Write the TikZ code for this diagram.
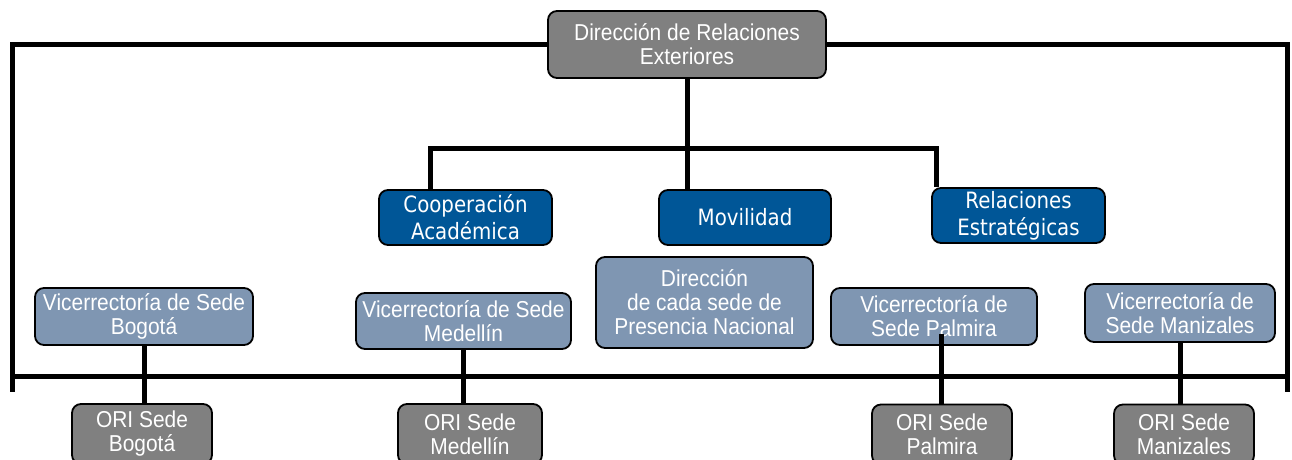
\documentclass[tikz,border=0pt]{standalone}
\usepackage{fontspec}
\setmainfont{Liberation Sans}
\newfontfamily\afont[FakeStretch=0.91]{Liberation Sans}
\newfontfamily\vfont[FakeStretch=0.88]{DejaVu Sans}
\usetikzlibrary{backgrounds}
\definecolor{topgray}{RGB}{128,128,128}
\definecolor{deepblue}{RGB}{0,86,151}
\definecolor{steel}{RGB}{127,150,178}
\tikzset{
  box/.style={draw=black, line width=1.8pt, rounded corners=9pt, text=white, align=center, inner sep=0pt},
  graybox/.style={box, fill=topgray, font=\afont\fontsize{23}{24}\selectfont},
  bluebox/.style={box, fill=deepblue, font=\vfont\fontsize{22.5}{27}\selectfont},
  steelbox/.style={box, fill=steel, font=\afont\fontsize{23}{24}\selectfont},
  conn/.style={line width=5pt, draw=black},
}
\begin{document}
\begin{tikzpicture}[x=1pt,y=-1pt]
\useasboundingbox (0,0) rectangle (1292,460);
\begin{scope}
\clip (0,0) rectangle (1292,460);
\node[graybox, minimum width=278, minimum height=67] (top) at (687,44.5) {Dirección de Relaciones\\Exteriores};
\node[bluebox, minimum width=173, minimum height=55] (coop) at (465.5,217.5) {Cooperación\\Académica};
\node[bluebox, minimum width=172, minimum height=55] (mov) at (745,217.5) {Movilidad};
\node[bluebox, minimum width=173, minimum height=55] (rel) at (1018.5,215.5) {Relaciones\\Estratégicas};
\node[steelbox, minimum width=217, minimum height=91] (dir) at (704.5,302.5) {Dirección\\de cada sede de\\Presencia Nacional};
\node[steelbox, minimum width=218, minimum height=57] (vb) at (144,316.5) {Vicerrectoría de Sede\\Bogotá};
\node[steelbox, minimum width=215, minimum height=56] (vm) at (463.5,321) {Vicerrectoría de Sede\\Medellín};
\node[steelbox, minimum width=206, minimum height=57] (vp) at (934,316.5) {Vicerrectoría de\\Sede Palmira};
\node[steelbox, minimum width=190, minimum height=58] (vz) at (1180,313) {Vicerrectoría de\\Sede Manizales};
\node[graybox, minimum width=140, minimum height=60] (ob) at (142,434) {ORI Sede\\Bogotá};
\node[graybox, minimum width=144, minimum height=60] (om) at (470,434) {ORI Sede\\Medellín};
\node[graybox, minimum width=140, minimum height=60] (op) at (942,434.5) {ORI Sede\\Palmira};
\node[graybox, minimum width=140, minimum height=60] (oz) at (1184,434.5) {ORI Sede\\Manizales};
\coordinate (lc) at (12,392);
\coordinate (rc) at (1287,392);
\coordinate (bl) at (12,376);
\coordinate (br) at (1287,376);
\coordinate (hl) at (430,148);
\coordinate (hr) at (936,148);
\begin{pgfonlayer}{background}
\draw[conn] (top.west) -| (lc);
\draw[conn] (top.east) -| (rc);
\draw[conn] (bl) -- (br);
\draw[conn] (top.south) -- (top.south |- mov.north);
\draw[conn] (hl |- coop.north) -- (hl) -- (hr) -- (hr |- rel.north);
\draw[conn] (vb.south) -- (vb.south |- ob.north);
\draw[conn] (vm.south) -- (vm.south |- om.north);
\draw[conn] (vz.south) -- (vz.south |- oz.north);
\end{pgfonlayer}
\draw[conn] (op.north) ++(-1,0) coordinate (pp) -- ++(0,-70);
\end{scope}
\end{tikzpicture}
\end{document}
